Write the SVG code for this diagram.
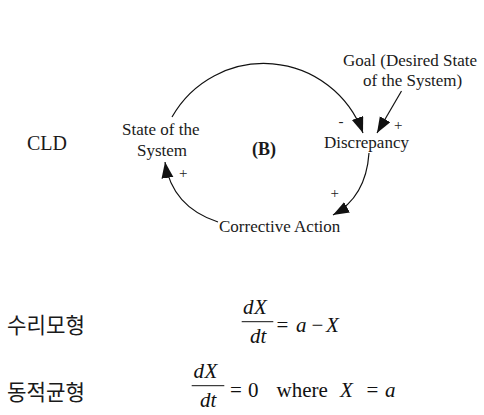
<svg xmlns="http://www.w3.org/2000/svg" width="484" height="415" viewBox="0 0 484 415">
<style>
.lbl{font-family:"Liberation Serif","Times New Roman",serif;font-size:17px;fill:#1a1a1a}
.sign{font-family:"Liberation Serif","Times New Roman",serif;font-size:15px;fill:#222}
.kr{font-family:"Noto Sans CJK KR",sans-serif;font-size:22px;fill:#1a1a1a}
.m{font-family:"Liberation Serif","Times New Roman",serif;font-size:21px;fill:#111}
.mi{font-family:"Liberation Serif","Times New Roman",serif;font-size:21px;font-style:italic;fill:#111}
.link{fill:none;stroke:#111;stroke-width:1.2}
.bar{stroke:#111;stroke-width:1}
</style>
<defs>
<marker id="ah" markerUnits="userSpaceOnUse" markerWidth="18" markerHeight="14" refX="16" refY="6" orient="auto">
<path d="M0,0 L16,6 L0,12 z" fill="#111"/>
</marker>
</defs>
<rect width="484" height="415" fill="#fff"/>

<g id="cld-label"><text class="lbl" x="27" y="150" style="font-size:20px">CLD</text></g>

<g id="node-state">
<text class="lbl" x="122" y="135">State of the</text>
<text class="lbl" x="137" y="156">System</text>
</g>
<g id="node-loop"><text class="lbl" x="252" y="155" style="font-weight:bold;font-size:18px">(B)</text></g>
<g id="node-discrepancy"><text class="lbl" x="324" y="148">Discrepancy</text></g>
<g id="node-goal">
<text class="lbl" x="343" y="66">Goal (Desired State</text>
<text class="lbl" x="363" y="86">of the System)</text>
</g>
<g id="node-corrective"><text class="lbl" x="219" y="232">Corrective Action</text></g>

<g id="connectors">
<path class="link" d="M172,117 A105.5,105.5 0 0,1 363,133" marker-end="url(#ah)"/>
<path class="link" d="M401.5,91 L377,133" marker-end="url(#ah)"/>
<path class="link" d="M369,153 Q366,197 333,215" marker-end="url(#ah)"/>
<path class="link" d="M218,222 Q172,207 165,162" marker-end="url(#ah)"/>
<text class="sign" x="338.5" y="126">-</text>
<text class="sign" x="394" y="130">+</text>
<text class="sign" x="330.5" y="198">+</text>
<text class="sign" x="179" y="178">+</text>
</g>

<g id="model">
<text class="kr" x="7" y="333" textLength="78" lengthAdjust="spacingAndGlyphs">수리모형</text>
<text class="mi" x="243" y="313.5">d<tspan x="254">X</tspan></text>
<line class="bar" x1="241.7" y1="321.7" x2="273.3" y2="321.7"/>
<text class="mi" x="250" y="342.5">dt</text>
<text class="m" x="276.5" y="332">=</text>
<text class="mi" x="296" y="332">a</text>
<text class="m" x="311.5" y="332">−</text>
<text class="mi" x="326" y="332">X</text>
</g>

<g id="equilibrium">
<text class="kr" x="7" y="400" textLength="78" lengthAdjust="spacingAndGlyphs">동적균형</text>
<text class="mi" x="193.5" y="378.3">d<tspan x="204.5">X</tspan></text>
<line class="bar" x1="191.7" y1="385.7" x2="224.3" y2="385.7"/>
<text class="mi" x="200" y="406.7">dt</text>
<text class="m" x="230" y="396.5">=</text>
<text class="m" x="248" y="396.5">0</text>
<text class="m" x="276.5" y="396.5">where</text>
<text class="mi" x="340" y="396.5">X</text>
<text class="m" x="366.5" y="396.5">=</text>
<text class="mi" x="385" y="396.5">a</text>
</g>
</svg>
